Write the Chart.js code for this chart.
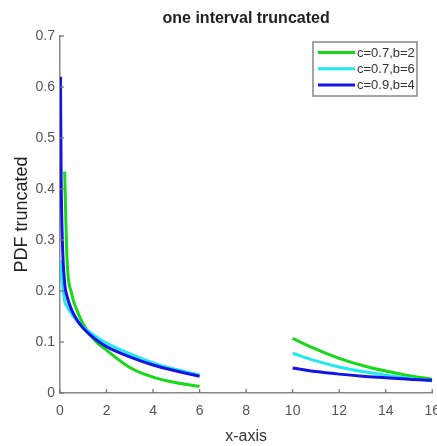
<!DOCTYPE html>
<html>
<head>
<meta charset="utf-8">
<script src="https://cdn.jsdelivr.net/npm/chart.js@4/dist/chart.umd.min.js"></script>
<style>
  html, body { margin: 0; padding: 0; background: #fff; overflow: hidden; }
  #wrap { position: relative; width: 450px; height: 446px; }
</style>
</head>
<body>
<div id="wrap"><canvas id="c"></canvas></div>
<script>
// ---- data ----
const chartTitle = "one interval truncated";
const xTitle = "x-axis";
const yTitle = "PDF truncated";
const seriesLabels = ["c=0.7,b=2", "c=0.7,b=6", "c=0.9,b=4"];
const seriesColors = ["#18d818", "#22e8f0", "#1414e6"];

const xTicks = [0, 2, 4, 6, 8, 10, 12, 14, 16];
const yTicks = [0, 0.1, 0.2, 0.3, 0.4, 0.5, 0.6, 0.7];
const yTickLabels = ["0", "0.1", "0.2", "0.3", "0.4", "0.5", "0.6", "0.7"];

// first interval [0, 6]
const leftX = [0.02, 0.05, 0.1, 0.2, 0.3, 0.5, 0.75, 1, 1.5, 2, 3, 4, 5, 6];
const greenLeft = [null, null, null, 0.434, 0.265, 0.195, 0.16, 0.135, 0.103, 0.084, 0.05, 0.031, 0.02, 0.013];
const cyanLeft  = [0.26, 0.235, 0.215, 0.18, 0.17, 0.155, 0.14, 0.129, 0.112, 0.098, 0.077, 0.059, 0.046, 0.035];
const blueLeft  = [0.62, 0.42, 0.30, 0.215, 0.19, 0.163, 0.142, 0.127, 0.106, 0.091, 0.071, 0.055, 0.043, 0.033];

// second interval [10, 16]
const rightX = [10, 11, 12, 13, 14, 15, 16];
const greenRight = [0.107, 0.086, 0.068, 0.054, 0.043, 0.034, 0.027];
const cyanRight  = [0.078, 0.063, 0.051, 0.042, 0.035, 0.029, 0.024];
const blueRight  = [0.049, 0.042, 0.037, 0.033, 0.030, 0.027, 0.025];

function buildPoints(lx, ly, rx, ry) {
  const pts = [];
  lx.forEach((x, i) => { if (ly[i] !== null) pts.push({ x: x, y: ly[i] }); });
  pts.push({ x: 8, y: null }); // gap between intervals
  rx.forEach((x, i) => pts.push({ x: x, y: ry[i] }));
  return pts;
}

const seriesData = [
  buildPoints(leftX, greenLeft, rightX, greenRight),
  buildPoints(leftX, cyanLeft, rightX, cyanRight),
  buildPoints(leftX, blueLeft, rightX, blueRight)
];

const FONT = "'Liberation Sans', Arial, sans-serif";

const decorPlugin = {
  id: 'decor',
  afterDraw(chart) {
    const ctx = chart.ctx;
    const area = chart.chartArea;
    const xs = chart.scales.x, ys = chart.scales.y;
    ctx.save();
    // inward ticks
    ctx.strokeStyle = '#777';
    ctx.lineWidth = 1.3;
    xTicks.forEach(v => {
      const px = xs.getPixelForValue(v);
      ctx.beginPath(); ctx.moveTo(px, area.bottom); ctx.lineTo(px, area.bottom - 4); ctx.stroke();
    });
    yTicks.forEach(v => {
      const py = ys.getPixelForValue(v);
      ctx.beginPath(); ctx.moveTo(area.left, py); ctx.lineTo(area.left + 4, py); ctx.stroke();
    });
    // title
    ctx.fillStyle = '#222';
    ctx.font = "bold 16px " + FONT;
    ctx.textAlign = 'center';
    ctx.textBaseline = 'middle';
    ctx.fillText(chartTitle, (area.left + area.right) / 2, 19);
    // legend
    const bx = 313, by = 42, bw = 104, bh = 54;
    ctx.fillStyle = '#fff';
    ctx.fillRect(bx, by, bw, bh);
    ctx.strokeStyle = '#888';
    ctx.lineWidth = 1.5;
    ctx.strokeRect(bx, by, bw, bh);
    ctx.font = "13px " + FONT;
    ctx.textAlign = 'left';
    const rows = [52.5, 68.8, 85];
    chart.data.datasets.forEach((ds, i) => {
      ctx.strokeStyle = ds.borderColor;
      ctx.lineWidth = 3;
      ctx.beginPath(); ctx.moveTo(318, rows[i]); ctx.lineTo(355, rows[i]); ctx.stroke();
      ctx.fillStyle = '#333';
      ctx.fillText(ds.label, 357, rows[i] + 0.5);
    });
    ctx.restore();
  }
};

new Chart(document.getElementById('c'), {
  type: 'line',
  data: {
    datasets: seriesData.map((d, i) => ({
      label: seriesLabels[i],
      data: d,
      borderColor: seriesColors[i],
      backgroundColor: seriesColors[i],
      borderWidth: 3,
      pointRadius: 0,
      fill: false,
      spanGaps: false,
      cubicInterpolationMode: 'monotone',
      order: 2 - i
    }))
  },
  options: {
    responsive: true,
    maintainAspectRatio: false,
    animation: false,
    layout: { padding: { top: 36, right: 15, left: 0, bottom: 0 } },
    plugins: { legend: { display: false }, tooltip: { enabled: false }, title: { display: false } },
    scales: {
      x: {
        type: 'linear', min: 0, max: 16,
        afterFit(s) { s.height = 53; },
        afterBuildTicks(s) { s.ticks = xTicks.map(v => ({ value: v })); },
        ticks: { color: '#555', font: { size: 14, family: FONT }, padding: 10, maxRotation: 0,
                 callback: v => String(v) },
        grid: { display: false, drawTicks: false },
        border: { display: true, color: '#888', width: 1.5 },
        title: { display: true, text: xTitle, color: '#333', font: { size: 16, family: FONT }, padding: { top: 0, bottom: 0 } }
      },
      y: {
        type: 'linear', min: 0, max: 0.7,
        afterFit(s) { s.width = 60; },
        afterBuildTicks(s) { s.ticks = yTicks.map(v => ({ value: v })); },
        ticks: { color: '#555', font: { size: 14, family: FONT }, padding: 5,
                 callback: (v) => { const k = yTicks.findIndex(t => Math.abs(t - v) < 1e-9); return k >= 0 ? yTickLabels[k] : ''; } },
        grid: { display: false, drawTicks: false },
        border: { display: true, color: '#888', width: 1.5 },
        title: { display: true, text: yTitle, color: '#222', font: { size: 18, family: FONT }, padding: { top: 11, bottom: 0 } }
      }
    }
  },
  plugins: [decorPlugin]
});
</script>
</body>
</html>
